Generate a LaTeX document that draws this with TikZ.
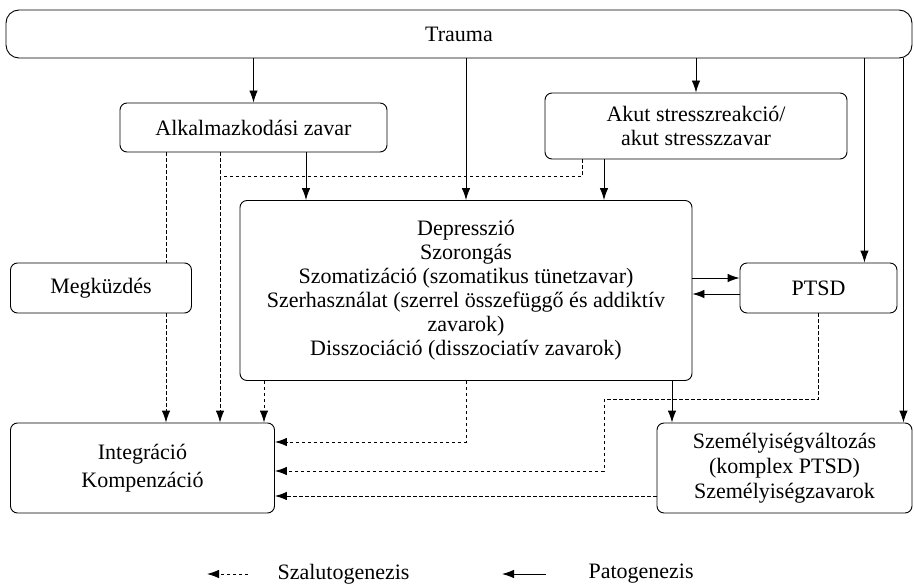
\documentclass[tikz,border=0pt]{standalone}
\usepackage{fontspec}
\setmainfont{Liberation Serif}
\usetikzlibrary{arrows.meta,positioning}

\tikzset{
  box/.style={draw, rounded corners=7pt, align=center, inner sep=0pt, line width=0.9pt},
  pato/.style={-{Latex[length=12pt,width=8.5pt]}, line width=0.9pt},
  szalu/.style={pato, dash pattern=on 3.5pt off 2.5pt},
}

\begin{document}
\begin{tikzpicture}[x=1pt,y=-1pt]

  \useasboundingbox (0,0) rectangle (914,586);
  \fontsize{22}{24}\selectfont

  %% boxes
  \node[box, minimum width=906pt, minimum height=48pt, rounded corners=13pt]
  (trauma) at (459,34) {Trauma};
  \node[box, minimum width=267pt, minimum height=49pt]
  (alk) at (253.5,127.5) {Alkalmazkodási zavar};
  \node[box, minimum width=302pt, minimum height=66pt]
  (akut) at (696,126) {Akut stresszreakció/\\akut stresszzavar};
  \node[box, minimum width=452pt, minimum height=180pt]
  (tunet) at (466,290.5) {Depresszió\\Szorongás\\Szomatizáció (szomatikus tünetzavar)\\
    Szerhasználat (szerrel összefüggő és addiktív\\zavarok)\\Disszociáció (disszociatív zavarok)};
  \node[box, minimum width=181pt, minimum height=50pt]
  (megk) at (101,288) {Megküzdés};
  \node[box, minimum width=157pt, minimum height=50pt]
  (ptsd) at (818.5,288) {PTSD};
  \node[box, minimum width=264pt, minimum height=90pt, font=\fontsize{22}{28}\selectfont]
  (integr) at (142.5,468) {Integráció\\Kompenzáció};
  \node[box, minimum width=255pt, minimum height=90pt, font=\fontsize{22}{25}\selectfont]
  (szem) at (784.5,468) {Személyiségváltozás\\(komplex PTSD)\\Személyiségzavarok};

  %% patogenezis
  \coordinate (t2p) at ([xshift=-33pt]ptsd.north east);
  \coordinate (t2s) at ([xshift=-9pt]szem.north east);
  \coordinate (a2t) at ([xshift=52.5pt]alk.south);
  \coordinate (k2t) at ([xshift=-92pt]akut.south);
  \coordinate (t2sz) at ([xshift=206pt]tunet.south);

  \draw[pato] (alk.north |- trauma.south) -- (alk.north);
  \draw[pato] (akut.north |- trauma.south) -- (akut.north);
  \draw[pato] (tunet.north |- trauma.south) -- (tunet.north);
  \draw[pato] (t2p |- trauma.south) -- (t2p);
  \draw[pato] (t2s |- trauma.south) -- (t2s);
  \draw[pato] (a2t) -- (a2t |- tunet.north);
  \draw[pato] (k2t) -- (k2t |- tunet.north);
  \draw[pato] (t2sz) -- (t2sz |- szem.north);
  \draw[pato] ([yshift=12.5pt]tunet.east) -- ([yshift=12.5pt]tunet.east -| ptsd.west);
  \draw[pato] ([yshift=-6pt]ptsd.west) -- ([yshift=-6pt]ptsd.west -| tunet.east);

  %% szalutogenezis
  \coordinate (a1) at ([xshift=65pt]megk.north);
  \coordinate (a1b) at ([xshift=65pt]megk.south);
  \coordinate (a2) at ([xshift=-33.5pt]alk.south);
  \coordinate (kk) at ([yshift=-24pt]a2);
  \coordinate (k1) at ([xshift=-114pt]akut.south);
  \coordinate (t1) at ([xshift=-202pt]tunet.south);
  \coordinate (p0) at ([yshift=-86pt]ptsd.south);

  \draw[szalu,-] (a1 |- alk.south) -- (a1);
  \draw[szalu] (a1b) -- (a1b |- integr.north);
  \draw[szalu] (a2) -- (a2 |- integr.north);
  \draw[szalu,-] (k1) |- (kk);
  \draw[szalu] (t1) -- (t1 |- integr.north);
  \draw[szalu] (tunet.south) |- ([yshift=26pt]integr.east);
  \draw[szalu] (ptsd.south) -- (p0) -- (p0 -| k2t) |- ([yshift=-3pt]integr.east);
  \draw[szalu] ([yshift=-28pt]szem.west) -- ([yshift=-28pt]szem.west -| integr.east);

  %% legend
  \node[anchor=west] (lszal) at (270,574) {Szalutogenezis};
  \node[anchor=west] (lpato) at (581,574) {Patogenezis};
  \coordinate (ls0) at ([xshift=-22pt]lszal.west);
  \coordinate (ls1) at ([xshift=-63pt]lszal.west);
  \coordinate (lp0) at ([xshift=-35pt]lpato.west);
  \coordinate (lp1) at ([xshift=-79pt]lpato.west);
  \draw[szalu] (ls0) -- (ls1);
  \draw[pato] (lp0) -- (lp1);

\end{tikzpicture}
\end{document}
